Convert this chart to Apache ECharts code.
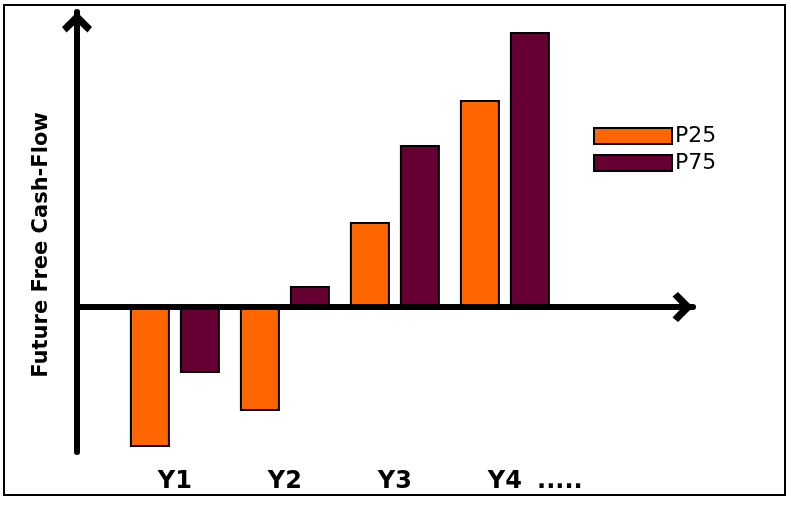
<!DOCTYPE html>
<html>
<head>
<meta charset="utf-8">
<script src="https://cdn.jsdelivr.net/npm/echarts@6/dist/echarts.min.js"></script>
<style>
html,body{margin:0;padding:0;background:#fff;}
#c{width:791px;height:508px;}
</style>
</head>
<body>
<div id="c"></div>
<script>
// ---- data ----
const categories = ['Y1', 'Y2', 'Y3', 'Y4'];
const trailingLabel = '.....';
const seriesNames = ['P25', 'P75'];
const p25 = [-140, -104, 85, 207];
const p75 = [-66, 21, 162, 275];
const yTitle = 'Future Free Cash-Flow';

// ---- chart ----
const chart = echarts.init(document.getElementById('c'), null, {renderer: 'canvas'});
const arrowPath = 'path://M15,0 L30,15 L25.5,20.5 L15,10.5 L4.5,20.5 L0,15 Z M12,4 L18,4 L18,24 L12,24 Z';
const labelValues = categories.map((c, i) => i + 1).concat([categories.length + 0.5]);
const labelFor = v => {
  const i = Math.round(v) - 1;
  if (Number.isInteger(v) && i >= 0 && i < categories.length) return categories[i];
  return trailingLabel;
};

const option = {
  backgroundColor: '#ffffff',
  animation: false,
  grid: {left: 77, right: 98, top: 12, bottom: 56, containLabel: false},
  graphic: [{
    type: 'rect', silent: true, z: -1,
    shape: {x: 4, y: 5, width: 781, height: 490},
    style: {fill: 'none', stroke: '#000', lineWidth: 2}
  }],
  legend: {
    orient: 'vertical', left: 588, top: 120,
    icon: 'rect', itemWidth: 78, itemHeight: 16, itemGap: 5,
    itemStyle: {borderColor: '#000', borderWidth: 2},
    textStyle: {fontFamily: 'DejaVu Sans', fontSize: 22, lineHeight: 22, color: '#000', padding: [0, 0, 0, -2]},
    data: seriesNames
  },
  xAxis: [{
    type: 'value', min: 0.11, max: 5.71, position: 'bottom', z: 5,
    axisLine: {show: true, onZero: true, lineStyle: {color: '#000', width: 6},
      symbol: ['none', arrowPath], symbolSize: [30, 24], symbolOffset: [0, -12]},
    axisTick: {show: false}, axisLabel: {show: false}, splitLine: {show: false}
  }, {
    type: 'value', min: 0.11, max: 5.71, position: 'bottom',
    axisLine: {show: false, onZero: false},
    axisTick: {show: false}, splitLine: {show: false},
    axisLabel: {
      show: true, customValues: labelValues, formatter: labelFor, margin: 18,
      fontFamily: 'DejaVu Sans', fontWeight: 'bold', fontSize: 24, color: '#000'
    }
  }],
  yAxis: {
    type: 'value', min: -145, max: 295,
    name: yTitle, nameLocation: 'middle', nameGap: 25,
    nameTextStyle: {fontFamily: 'DejaVu Sans', fontWeight: 'bold', fontSize: 21, color: '#000', padding: [0, 26, 0, 0]},
    axisLine: {show: true, onZero: false, lineStyle: {color: '#000', width: 6},
      symbol: ['none', arrowPath], symbolSize: [30, 24], symbolOffset: [0, -12]},
    axisTick: {show: false}, axisLabel: {show: false}, splitLine: {show: false}
  },
  series: [{
    name: seriesNames[0], type: 'bar', xAxisIndex: 0,
    barWidth: 40, barGap: '25%',
    itemStyle: {color: '#FF6600', borderColor: '#000', borderWidth: 2},
    data: p25.map((v, i) => [i + 1, v])
  }, {
    name: seriesNames[1], type: 'bar', xAxisIndex: 0,
    barWidth: 40, barGap: '25%',
    itemStyle: {color: '#660033', borderColor: '#000', borderWidth: 2},
    data: p75.map((v, i) => [i + 1, v])
  }]
};
chart.setOption(option);
</script>
</body>
</html>
